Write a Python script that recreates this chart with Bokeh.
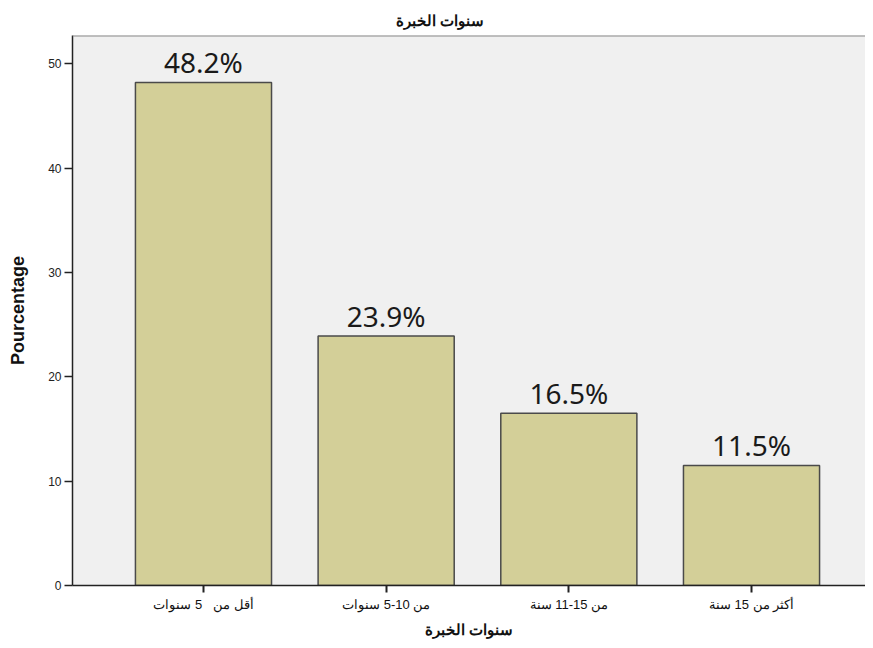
from bokeh.plotting import figure
from bokeh.models import Range1d, FixedTicker, Span, ColumnDataSource
from bokeh.core.properties import value
from bokeh.embed import file_html
from bokeh.resources import INLINE

RLE = "\u202b"
PDF = "\u202c"

title_text = "سنوات الخبرة"
x_title = "سنوات الخبرة"
y_title = "Pourcentage"
categories = ["أقل من   5 سنوات", "من 10-5 سنوات", "من 15-11 سنة", "أكثر من 15 سنة"]
percentages = [48.2, 23.9, 16.5, 11.5]
bar_labels = ["48.2%", "23.9%", "16.5%", "11.5%"]
y_ticks = [0, 10, 20, 30, 40, 50]

positions = list(range(1, len(categories) + 1))
y_max = 52.7

source = ColumnDataSource(dict(x=positions, top=percentages, label=bar_labels))

p = figure(width=865, height=640, output_backend="svg", toolbar_location=None,
           x_range=Range1d(0.283, 4.624), y_range=Range1d(0, y_max),
           min_border_left=72, min_border_right=0, min_border_top=35, min_border_bottom=55)

p.title.text = title_text
p.title.align = "left"
p.title.offset = 323
p.title.standoff = 14
p.title.text_font = "Liberation Sans"
p.title.text_font_size = "15px"
p.title.text_font_style = "bold"
p.title.text_color = "#111111"

p.background_fill_color = "#F0F0F0"
p.border_fill_color = "white"
p.outline_line_color = None
p.xgrid.grid_line_color = None
p.ygrid.grid_line_color = None

p.vbar(x="x", top="top", width=0.745, bottom=0, source=source,
       fill_color="#D3CF98", line_color="#4a4a4a", line_width=1.5)

p.text(x="x", y="top", text="label", source=source, text_align="center",
       text_baseline="bottom", y_offset=-1, text_font=value("Noto Sans"),
       text_font_size="28px", text_color="#1a1a1a")

p.add_layout(Span(location=y_max, dimension="width", line_color="#888888", line_width=2))

# x axis
xa = p.xaxis[0]
xa.ticker = FixedTicker(ticks=positions)
xa.major_label_overrides = {pos: RLE + c.replace("  ", "\u00a0\u00a0") + PDF
                            for pos, c in zip(positions, categories)}
xa.minor_tick_line_color = None
xa.major_tick_in = 0
xa.major_tick_out = 7
xa.major_tick_line_color = "#222222"
xa.major_tick_line_width = 2
xa.axis_line_color = "#222222"
xa.axis_line_width = 1.5
xa.major_label_text_font = "Liberation Sans"
xa.major_label_text_font_size = "13px"
xa.major_label_text_color = "#111111"
xa.major_label_standoff = 4
xa.axis_label = x_title
xa.axis_label_text_font = "Liberation Sans"
xa.axis_label_text_font_size = "15px"
xa.axis_label_text_font_style = "bold"
xa.axis_label_text_color = "#111111"
xa.axis_label_standoff = 6

# y axis
ya = p.yaxis[0]
ya.ticker = FixedTicker(ticks=y_ticks)
ya.minor_tick_line_color = None
ya.major_tick_in = 0
ya.major_tick_out = 8
ya.major_tick_line_color = "#222222"
ya.major_tick_line_width = 1.5
ya.axis_line_color = "#222222"
ya.axis_line_width = 1.5
ya.major_label_text_font = "Liberation Sans"
ya.major_label_text_font_size = "12px"
ya.major_label_text_color = "#222222"
ya.major_label_standoff = 3
ya.axis_label = y_title
ya.axis_label_text_font = "Liberation Sans"
ya.axis_label_text_font_size = "18px"
ya.axis_label_text_font_style = "bold"
ya.axis_label_text_color = "#111111"
ya.axis_label_standoff = 17

open("out.html", "w").write(file_html(p, INLINE))
